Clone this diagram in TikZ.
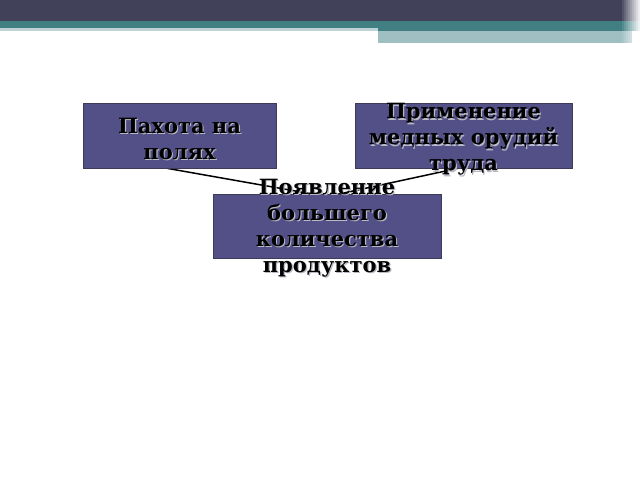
\documentclass[tikz,border=0pt]{standalone}
\usepackage{fontspec}
\setmainfont{DejaVu Serif}
\usetikzlibrary{backgrounds}
\usetikzlibrary{positioning}
\definecolor{bardark}{RGB}{65,66,90}
\definecolor{barteal}{RGB}{66,127,131}
\definecolor{barlight}{RGB}{160,191,194}
\definecolor{boxfill}{RGB}{82,80,135}
\definecolor{boxline}{RGB}{60,60,90}
\definecolor{textshade}{RGB}{185,185,195}

\begin{document}
\begin{tikzpicture}[x=1pt,y=-1pt,
    box node/.style={rectangle,draw=boxline,line width=0.8pt,fill=boxfill,inner sep=0pt},
    box text/.style={align=center,inner sep=0pt,text=black,font=\fontsize{21}{26}\selectfont\bfseries},
    box label/.style 2 args={label={[box text,text=textshade,xshift=1.2pt,yshift=#1-1.2pt]center:#2},
      label={[box text,yshift=#1]center:#2}}]
  \useasboundingbox (0,0) rectangle (640,480);
  % header bars
  \fill[bardark] (0,0) rectangle (640,21);
  \fill[barteal] (0,21) rectangle (640,31);
  \fill[barlight!70!white] (0,28) rectangle (378,31);
  \fill[barlight] (378,31) rectangle (632,43);
  \foreach \i in {0,...,9}
    \fill[white,opacity=0.1*\i] (620+2*\i,0) rectangle (622+2*\i,43);

  \node[box node,minimum width=193pt,minimum height=65pt,
    box label={-3pt}{Пахота на\\полях}] (pahota) at (179.5,135.5) {};
  \node[box node,minimum width=217pt,minimum height=65pt,
    box label={-4pt}{Применение\\медных орудий\\труда}] (orudia) at (463.5,135.5) {};
  \node[box node,minimum width=228pt,minimum height=64pt,
    box label={-2pt}{Появление\\большего\\количества\\продуктов}] (kolvo) at (327,226) {};

  \begin{scope}[on background layer]
    \path[-,line width=1.5pt] ([xshift=-12pt]pahota.south) edge ([yshift=-3pt]kolvo.north);
    \path[-,line width=1.5pt] ([xshift=-6pt]orudia.south) edge ([yshift=-3pt]kolvo.north);
  \end{scope}
\end{tikzpicture}
\end{document}
